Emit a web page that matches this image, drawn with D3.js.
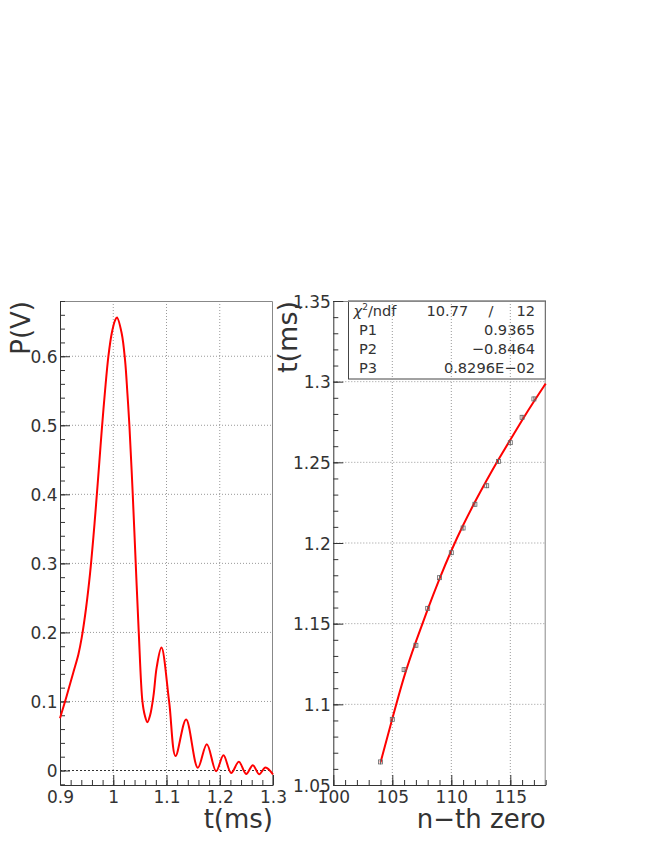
<!DOCTYPE html>
<html>
<head>
<meta charset="utf-8">
<script src="https://cdn.jsdelivr.net/npm/d3@7"></script>
<style>
    html, body { margin: 0; padding: 0; background: #fff; }
    svg text { font-family: "DejaVu Sans", sans-serif; fill: #333; }
</style>
</head>
<body>
<svg id="chart" width="654" height="846"></svg>
<script>
// left pad: pulse P(V) vs t(ms)
const pulseT = [0.9, 0.9125, 0.925, 0.9345, 0.9407, 0.9489, 0.9564, 0.9627, 0.9677, 0.9739, 0.9783,
    0.9846, 0.9909, 0.9971, 1.0034, 1.007, 1.0159, 1.0222, 1.0266, 1.0303, 1.0366, 1.0422, 1.0479,
    1.0548, 1.0592, 1.0642, 1.0692, 1.0755, 1.0817, 1.0905, 1.1049, 1.117,
    1.1368, 1.1588, 1.1757, 1.1932, 1.207, 1.2214, 1.2359, 1.2496, 1.2622, 1.274, 1.2859, 1.3];
const pulseP = [0.0757, 0.108, 0.142, 0.168, 0.192, 0.235, 0.285, 0.338, 0.385, 0.447, 0.492,
    0.55, 0.6, 0.633, 0.652, 0.656, 0.633, 0.594, 0.546, 0.5, 0.4, 0.3, 0.2,
    0.1, 0.08, 0.07, 0.08, 0.108, 0.15, 0.178, 0.1, 0.021,
    0.074, 0.004, 0.038, -0.001, 0.022, -0.0035, 0.0125, -0.005, 0.0077, -0.0054, 0.0043, -0.0058];
const pulseXTicks = [0.9, 1, 1.1, 1.2, 1.3];
const pulseYTicks = [0, 0.1, 0.2, 0.3, 0.4, 0.5, 0.6];

// right pad: time of the n-th zero, with its fit
const zeroN = [104, 105, 106, 107, 108, 109, 110, 111, 112, 113, 114, 115, 116, 117];
const zeroT = [1.0643, 1.0907, 1.1215, 1.1366, 1.1595, 1.1785, 1.194, 1.2093, 1.224, 1.2355,
    1.2506, 1.2622, 1.2779, 1.2893];
const zeroErr = [0.0015, 0.0015, 0.0015, 0.0015, 0.0015, 0.0015, 0.0015, 0.0015, 0.0015, 0.0015,
    0.0015, 0.0015, 0.0015, 0.0015];
const fitN = [104, 105, 106, 107, 108, 109, 110, 111, 112, 113, 114, 115, 116, 117, 118];
const fitT = [1.064, 1.091, 1.118, 1.139, 1.159, 1.178, 1.1955, 1.2112, 1.2255, 1.239, 1.2518,
    1.264, 1.2762, 1.2878, 1.2988];
const zeroXTicks = [100, 105, 110, 115];
const zeroYTicks = [1.05, 1.1, 1.15, 1.2, 1.25, 1.3, 1.35];
const statLabels = ["P1", "P2", "P3"];
const statValues = ["0.9365", "\u22120.8464", "0.8296E\u221202"];
const chi2 = "10.77";
const ndf = "12";

const svg = d3.select("#chart");
const frameColor = "#888";
const axisColor = "#333";
const red = "#ff0000";

// 把一个 pad 画出来：网格、框、刻度
function drawPad(x, y, xTicks, yTicks, xMinorStep, yMinorStep) {
    const [x0, x1] = x.range();
    const [y0, y1] = y.range();
    const g = svg.append("g");

    const minor = (scale, step) => d3.range(
        Math.ceil(scale.domain()[0] / step - 1e-6),
        Math.floor(scale.domain()[1] / step + 1e-6) + 1
    ).map(i => +(i * step).toFixed(6));

    // grid
    g.append("g").selectAll("line")
        .data(xTicks.filter(d => x(d) > x0 + 1 && x(d) < x1 - 1))
        .enter().append("line")
        .attr("x1", d => x(d)).attr("x2", d => x(d))
        .attr("y1", y0).attr("y2", y1)
        .attr("stroke", "#999").attr("stroke-dasharray", "1,2");
    g.append("g").selectAll("line")
        .data(yTicks.filter(d => y(d) < y0 - 1 && y(d) > y1 + 1))
        .enter().append("line")
        .attr("x1", x0).attr("x2", x1)
        .attr("y1", d => y(d)).attr("y2", d => y(d))
        .attr("stroke", d => d === 0 ? "#333" : "#999")
        .attr("stroke-dasharray", d => d === 0 ? "2,2" : "1,2");

    // frame top / right
    g.append("path")
        .attr("d", `M${x0},${y1 + 0.5}H${x1 - 0.5}V${y0}`)
        .attr("fill", "none").attr("stroke", frameColor);

    // minor ticks
    g.append("g").attr("transform", `translate(0,${y0})`)
        .call(d3.axisBottom(x).tickValues(minor(x, xMinorStep)).tickSize(-5).tickSizeOuter(0).tickFormat(""))
        .call(a => a.select(".domain").remove())
        .attr("color", axisColor);
    g.append("g").attr("transform", `translate(${x0},0)`)
        .call(d3.axisLeft(y).tickValues(minor(y, yMinorStep)).tickSize(-5).tickSizeOuter(0).tickFormat(""))
        .call(a => a.select(".domain").remove())
        .attr("color", axisColor);

    // major ticks + labels
    const xAxis = g.append("g").attr("transform", `translate(0,${y0})`)
        .call(d3.axisBottom(x).tickValues(xTicks).tickSize(-10).tickSizeOuter(0)
            .tickPadding(6).tickFormat(d => String(d)));
    const yAxis = g.append("g").attr("transform", `translate(${x0},0)`)
        .call(d3.axisLeft(y).tickValues(yTicks).tickSize(-10).tickSizeOuter(0)
            .tickPadding(2.5).tickFormat(d => String(d)));
    [xAxis, yAxis].forEach(a => {
        a.attr("color", axisColor).attr("font-family", null).attr("font-size", null);
        a.selectAll("text").style("font-size", "17px");
    });
    yAxis.selectAll("text").attr("dy", "0.36em");
}

// ---- left pad ----
const px = d3.scaleLinear().domain([0.9, 1.3]).range([60, 273]);
const py = d3.scaleLinear().domain([-0.021, 0.68]).range([785, 301]);
drawPad(px, py, pulseXTicks, pulseYTicks, 0.02, 0.02);

const pulse = pulseT.map((t, i) => [t, pulseP[i]]);
svg.append("path")
    .datum(pulse)
    .attr("fill", "none")
    .attr("stroke", red)
    .attr("stroke-width", 2)
    .attr("d", d3.line().x(d => px(d[0])).y(d => py(d[1])).curve(d3.curveCatmullRom.alpha(0.5)));

svg.append("text")
    .attr("transform", "translate(30,301) rotate(-90)")
    .attr("text-anchor", "end")
    .style("font-size", "26px")
    .text("P(V)");
svg.append("text")
    .attr("x", 273).attr("y", 828)
    .attr("text-anchor", "end")
    .style("font-size", "26px")
    .text("t(ms)");

// ---- right pad ----
const zx = d3.scaleLinear().domain([100, 118]).range([333.3, 545.7]);
const zy = d3.scaleLinear().domain([1.05, 1.35]).range([785, 301]);

// stats box (drawn under the grid, like ROOT)
const box = svg.append("g");
box.append("rect")
    .attr("x", 348.5).attr("y", 301)
    .attr("width", 545.5 - 348.5).attr("height", 379 - 301)
    .attr("fill", "none").attr("stroke", "#444");

drawPad(zx, zy, zeroXTicks, zeroYTicks, 1, 0.01);

const chiRow = box.append("text").attr("x", 353.5).attr("y", 315.7).style("font-size", "14.6px");
chiRow.append("tspan").style("font-style", "italic").text("\u03c7");
chiRow.append("tspan").attr("dy", -6).style("font-size", "9px").text("2");
chiRow.append("tspan").attr("dy", 6).text("/ndf");
box.append("text").attr("x", 468.3).attr("y", 315.7).attr("text-anchor", "end")
    .style("font-size", "14.6px").text(chi2);
box.append("text").attr("x", 491).attr("y", 315.7).attr("text-anchor", "middle")
    .style("font-size", "14.6px").text("/");
box.append("text").attr("x", 535).attr("y", 315.7).attr("text-anchor", "end")
    .style("font-size", "14.6px").text(ndf);

const rowY = [335, 354.2, 373.3];
statLabels.forEach((lab, i) => {
    box.append("text").attr("x", 359).attr("y", rowY[i])
        .style("font-size", "14.6px").text(lab);
    box.append("text").attr("x", 535).attr("y", rowY[i]).attr("text-anchor", "end")
        .style("font-size", "14.6px").text(statValues[i]);
});

// fit curve
const fit = fitN.map((n, i) => [n, fitT[i]]);
svg.append("path")
    .datum(fit)
    .attr("fill", "none")
    .attr("stroke", red)
    .attr("stroke-width", 2)
    .attr("d", d3.line().x(d => zx(d[0])).y(d => zy(d[1])).curve(d3.curveBasis));

// points with error bars
const pts = svg.append("g").selectAll("g")
    .data(zeroN.map((n, i) => ({ n, t: zeroT[i], e: zeroErr[i] })))
    .enter().append("g");
pts.append("line")
    .attr("x1", d => zx(d.n)).attr("x2", d => zx(d.n))
    .attr("y1", d => zy(d.t - d.e)).attr("y2", d => zy(d.t + d.e))
    .attr("stroke", "#666");
pts.append("rect")
    .attr("x", d => zx(d.n) - 2).attr("y", d => zy(d.t) - 2)
    .attr("width", 4).attr("height", 4)
    .attr("fill", "none").attr("stroke", "#666").attr("stroke-width", 0.8);

svg.append("text")
    .attr("transform", "translate(297,301) rotate(-90)")
    .attr("text-anchor", "end")
    .style("font-size", "27px")
    .text("t(ms)");
svg.append("text")
    .attr("x", 545.7).attr("y", 828)
    .attr("text-anchor", "end")
    .style("font-size", "26px")
    .text("n\u2212th zero");
</script>
</body>
</html>
